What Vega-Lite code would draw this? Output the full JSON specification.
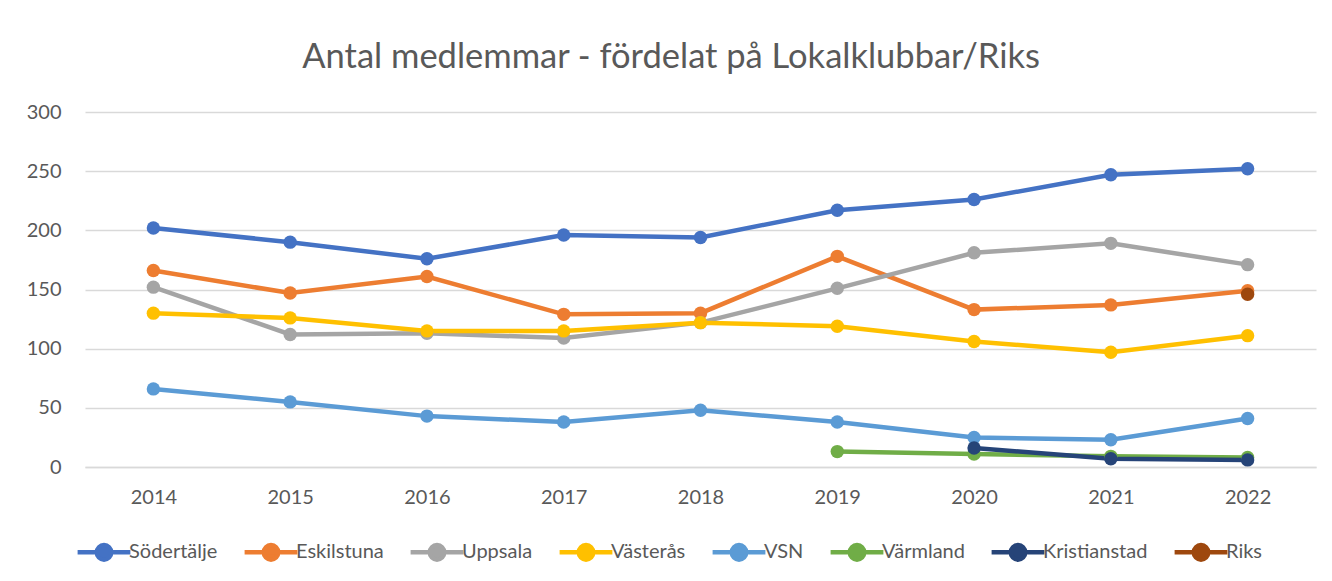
{
  "$schema": "https://vega.github.io/schema/vega-lite/v6.json",
  "width": 1332,
  "height": 581,
  "autosize": {"type": "fit", "contains": "padding"},
  "padding": {"left": 26, "top": 39, "right": 16, "bottom": 12},
  "background": "white",
  "title": {"text": "Antal medlemmar - fördelat på Lokalklubbar/Riks", "font": "Lato", "fontSize": 34.5, "fontWeight": "normal", "color": "#595959", "offset": 27, "frame": "bounds"},
  "config": {
    "view": {"stroke": null},
    "font": "Lato",
    "axis": {"labelFont": "Lato", "labelFontSize": 20, "labelColor": "#595959", "gridColor": "#d9d9d9", "gridWidth": 1.3, "ticks": false, "domain": false, "title": null}
  },
  "data": {"values": [
    {"year": "2014", "club": "Södertälje", "value": 202},
    {"year": "2015", "club": "Södertälje", "value": 190},
    {"year": "2016", "club": "Södertälje", "value": 176},
    {"year": "2017", "club": "Södertälje", "value": 196},
    {"year": "2018", "club": "Södertälje", "value": 194},
    {"year": "2019", "club": "Södertälje", "value": 217},
    {"year": "2020", "club": "Södertälje", "value": 226},
    {"year": "2021", "club": "Södertälje", "value": 247},
    {"year": "2022", "club": "Södertälje", "value": 252},
    {"year": "2014", "club": "Eskilstuna", "value": 166},
    {"year": "2015", "club": "Eskilstuna", "value": 147},
    {"year": "2016", "club": "Eskilstuna", "value": 161},
    {"year": "2017", "club": "Eskilstuna", "value": 129},
    {"year": "2018", "club": "Eskilstuna", "value": 130},
    {"year": "2019", "club": "Eskilstuna", "value": 178},
    {"year": "2020", "club": "Eskilstuna", "value": 133},
    {"year": "2021", "club": "Eskilstuna", "value": 137},
    {"year": "2022", "club": "Eskilstuna", "value": 149},
    {"year": "2014", "club": "Uppsala", "value": 152},
    {"year": "2015", "club": "Uppsala", "value": 112},
    {"year": "2016", "club": "Uppsala", "value": 113},
    {"year": "2017", "club": "Uppsala", "value": 109},
    {"year": "2018", "club": "Uppsala", "value": 122},
    {"year": "2019", "club": "Uppsala", "value": 151},
    {"year": "2020", "club": "Uppsala", "value": 181},
    {"year": "2021", "club": "Uppsala", "value": 189},
    {"year": "2022", "club": "Uppsala", "value": 171},
    {"year": "2014", "club": "Västerås", "value": 130},
    {"year": "2015", "club": "Västerås", "value": 126},
    {"year": "2016", "club": "Västerås", "value": 115},
    {"year": "2017", "club": "Västerås", "value": 115},
    {"year": "2018", "club": "Västerås", "value": 122},
    {"year": "2019", "club": "Västerås", "value": 119},
    {"year": "2020", "club": "Västerås", "value": 106},
    {"year": "2021", "club": "Västerås", "value": 97},
    {"year": "2022", "club": "Västerås", "value": 111},
    {"year": "2014", "club": "VSN", "value": 66},
    {"year": "2015", "club": "VSN", "value": 55},
    {"year": "2016", "club": "VSN", "value": 43},
    {"year": "2017", "club": "VSN", "value": 38},
    {"year": "2018", "club": "VSN", "value": 48},
    {"year": "2019", "club": "VSN", "value": 38},
    {"year": "2020", "club": "VSN", "value": 25},
    {"year": "2021", "club": "VSN", "value": 23},
    {"year": "2022", "club": "VSN", "value": 41},
    {"year": "2019", "club": "Värmland", "value": 13},
    {"year": "2020", "club": "Värmland", "value": 11},
    {"year": "2021", "club": "Värmland", "value": 9},
    {"year": "2022", "club": "Värmland", "value": 8},
    {"year": "2020", "club": "Kristianstad", "value": 16},
    {"year": "2021", "club": "Kristianstad", "value": 7},
    {"year": "2022", "club": "Kristianstad", "value": 6},
    {"year": "2022", "club": "Riks", "value": 146}
  ]},
  "encoding": {
    "x": {"field": "year", "type": "ordinal", "scale": {"type": "point", "padding": 0.5}, "axis": {"labelAngle": 0, "grid": false, "domain": true, "domainColor": "#d9d9d9", "domainWidth": 1.3, "labelPadding": 20}},
    "y": {"field": "value", "type": "quantitative", "scale": {"domain": [0, 300]}, "axis": {"values": [0, 50, 100, 150, 200, 250, 300], "labelPadding": 24}},
    "color": {"field": "club", "type": "nominal",
      "scale": {"domain": ["Södertälje", "Eskilstuna", "Uppsala", "Västerås", "VSN", "Värmland", "Kristianstad", "Riks"],
                "range": ["#4472C4", "#ED7D31", "#A5A5A5", "#FFC000", "#5B9BD5", "#70AD47", "#264478", "#9E480E"]},
      "legend": {"title": null, "orient": "bottom", "direction": "horizontal", "labelFontSize": 20, "labelColor": "#595959", "labelFont": "Lato",
        "symbolType": "M-1.6,0H1.6M-0.44,0A0.44,0.44 0 1,1 0.44,0A0.44,0.44 0 1,1 -0.44,0Z", "symbolSize": 1089, "symbolStrokeWidth": 4.5, "columnPadding": 17, "offset": 26, "labelOffset": 6}}
  },
  "layer": [
    {"mark": {"type": "line", "strokeWidth": 4.5}},
    {"mark": {"type": "circle", "size": 180, "opacity": 1}}
  ]
}
